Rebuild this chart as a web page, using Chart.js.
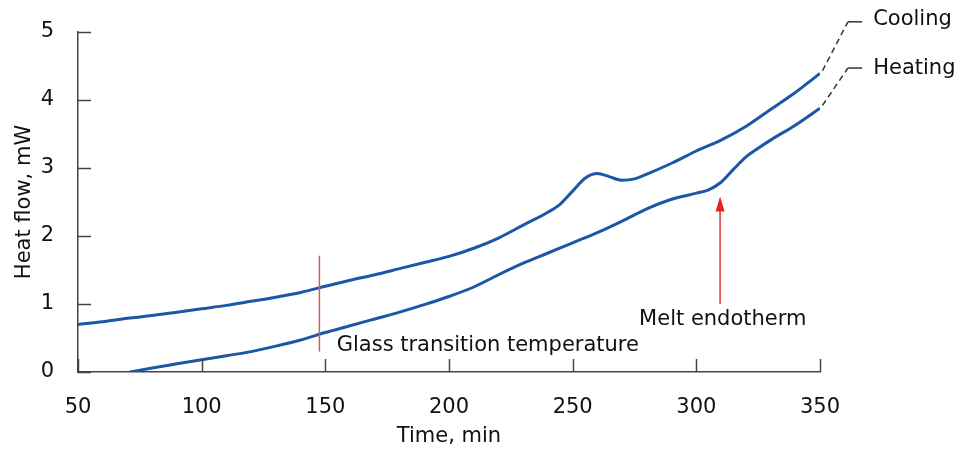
<!DOCTYPE html>
<html>
<head>
<meta charset="utf-8">
<script src="https://cdn.jsdelivr.net/npm/chart.js@4.4.1/dist/chart.umd.min.js"></script>
<style>
  html, body { margin: 0; padding: 0; background: #fff; }
  #wrap { width: 956px; height: 449px; position: relative; }
</style>
</head>
<body>
<div id="wrap"><canvas id="dscChart"></canvas></div>
<script>
// === Data ===
const coolingTime = [50, 60, 70, 80, 90, 100, 110, 120, 130, 140, 150, 160, 170, 180, 190, 200, 210, 220, 230, 240, 245, 250, 255, 260, 265, 270, 275, 280, 290, 300, 310, 320, 330, 340, 350];
const coolingFlow = [0.70, 0.74, 0.79, 0.83, 0.88, 0.93, 0.98, 1.04, 1.10, 1.17, 1.26, 1.35, 1.43, 1.52, 1.61, 1.70, 1.82, 1.97, 2.16, 2.35, 2.47, 2.66, 2.85, 2.92, 2.87, 2.82, 2.84, 2.91, 3.07, 3.25, 3.41, 3.61, 3.86, 4.11, 4.39];

const heatingTime = [71, 80, 90, 100, 110, 120, 130, 140, 150, 160, 170, 180, 190, 200, 210, 220, 230, 240, 250, 260, 270, 280, 290, 300, 305, 310, 315, 320, 325, 330, 340, 350];
const heatingFlow = [0.00, 0.06, 0.12, 0.18, 0.24, 0.30, 0.38, 0.47, 0.58, 0.68, 0.78, 0.88, 0.99, 1.11, 1.25, 1.43, 1.60, 1.75, 1.90, 2.05, 2.22, 2.40, 2.54, 2.63, 2.68, 2.79, 2.98, 3.16, 3.29, 3.41, 3.63, 3.88];

const xTicks = [50, 100, 150, 200, 250, 300, 350];
const yTicks = [0, 1, 2, 3, 4, 5];

// leader lines from curve ends to the series labels
const coolingLeaderTime = [351, 361.3, 367];
const coolingLeaderFlow = [4.43, 5.15, 5.15];
const heatingLeaderTime = [351, 361.3, 367];
const heatingLeaderFlow = [3.92, 4.47, 4.47];

// annotations
const glassTime = 147.6;
const glassRange = [0.30, 1.71];
const meltTime = 309.6;
const meltRange = [1.0, 2.58];

Chart.defaults.font.family = "'DejaVu Sans', sans-serif";
Chart.defaults.font.size = 21;
Chart.defaults.color = '#111';

const toPoints = (xs, ys) => xs.map((v, i) => ({ x: v, y: ys[i] }));

// === Anotasi: tick ke dalam, garis, panah, label ===
const annotate = {
    id: 'annotate',
    afterDraw(chart) {
        const { ctx, scales: { x, y } } = chart;
        ctx.save();

        // inward tick marks
        ctx.strokeStyle = '#444';
        ctx.lineWidth = 1.5;
        xTicks.forEach(v => {
            const px = Math.round(x.getPixelForValue(v)) + 0.5;
            ctx.beginPath();
            ctx.moveTo(px, y.bottom);
            ctx.lineTo(px, y.bottom - 13);
            ctx.stroke();
        });
        yTicks.forEach(v => {
            const py = Math.round(y.getPixelForValue(v)) + 0.5;
            ctx.beginPath();
            ctx.moveTo(x.left, py);
            ctx.lineTo(x.left + 13, py);
            ctx.stroke();
        });

        // leader lines
        const leader = (ts, fs) => {
            ctx.strokeStyle = '#333';
            ctx.lineWidth = 1.5;
            ctx.setLineDash([6, 4]);
            ctx.beginPath();
            ctx.moveTo(x.getPixelForValue(ts[0]), y.getPixelForValue(fs[0]));
            ctx.lineTo(x.getPixelForValue(ts[1]), y.getPixelForValue(fs[1]));
            ctx.stroke();
            ctx.setLineDash([]);
            ctx.beginPath();
            ctx.moveTo(x.getPixelForValue(ts[1]), y.getPixelForValue(fs[1]));
            ctx.lineTo(x.getPixelForValue(ts[2]), y.getPixelForValue(fs[2]));
            ctx.stroke();
        };
        leader(coolingLeaderTime, coolingLeaderFlow);
        leader(heatingLeaderTime, heatingLeaderFlow);

        // glass transition marker
        const gx = x.getPixelForValue(glassTime);
        ctx.strokeStyle = '#d65c5c';
        ctx.lineWidth = 1.5;
        ctx.beginPath();
        ctx.moveTo(gx, y.getPixelForValue(glassRange[0]));
        ctx.lineTo(gx, y.getPixelForValue(glassRange[1]));
        ctx.stroke();

        // melt endotherm arrow
        const mx = x.getPixelForValue(meltTime);
        const tipY = y.getPixelForValue(meltRange[1]);
        ctx.strokeStyle = '#e53030';
        ctx.fillStyle = '#e82020';
        ctx.beginPath();
        ctx.moveTo(mx, y.getPixelForValue(meltRange[0]));
        ctx.lineTo(mx, tipY + 12);
        ctx.stroke();
        ctx.beginPath();
        ctx.moveTo(mx, tipY);
        ctx.lineTo(mx - 4.5, tipY + 15);
        ctx.lineTo(mx + 4.5, tipY + 15);
        ctx.closePath();
        ctx.fill();

        // texts
        ctx.fillStyle = '#111';
        ctx.font = "21px 'DejaVu Sans', sans-serif";
        ctx.textBaseline = 'middle';
        ctx.textAlign = 'left';
        ctx.fillText('Glass transition temperature', x.getPixelForValue(154.6), y.getPixelForValue(0.39));
        ctx.textAlign = 'center';
        ctx.fillText('Melt endotherm', x.getPixelForValue(310.7), y.getPixelForValue(0.77));
        ctx.textAlign = 'left';
        ctx.fillText('Cooling', x.getPixelForValue(371.5), y.getPixelForValue(5.18));
        ctx.fillText('Heating', x.getPixelForValue(371.5), y.getPixelForValue(4.46));

        ctx.restore();
    }
};

const ctx = document.getElementById('dscChart').getContext('2d');
new Chart(ctx, {
    type: 'line',
    data: {
        datasets: [
            {
                label: 'Cooling',
                data: toPoints(coolingTime, coolingFlow),
                borderColor: '#1b57a6',
                borderWidth: 3,
                pointRadius: 0,
                cubicInterpolationMode: 'monotone',
                fill: false
            },
            {
                label: 'Heating',
                data: toPoints(heatingTime, heatingFlow),
                borderColor: '#1b57a6',
                borderWidth: 3,
                pointRadius: 0,
                cubicInterpolationMode: 'monotone',
                fill: false
            }
        ]
    },
    options: {
        responsive: true,
        maintainAspectRatio: false,
        animation: false,
        layout: { padding: { left: 0, top: 32, right: 136, bottom: 0 } },
        plugins: {
            legend: { display: false },
            tooltip: { enabled: false }
        },
        scales: {
            x: {
                type: 'linear',
                min: 50,
                max: 350,
                afterFit: s => { s.height = 77; },
                afterBuildTicks: s => { s.ticks = xTicks.map(v => ({ value: v })); },
                grid: { display: false },
                border: { display: true, color: '#444', width: 1.5 },
                ticks: { padding: 15, maxRotation: 0, color: '#111' },
                title: { display: true, text: 'Time, min', color: '#111', padding: { top: 0, bottom: 0 } }
            },
            y: {
                min: 0,
                max: 5,
                afterFit: s => { s.width = 78; },
                afterBuildTicks: s => { s.ticks = yTicks.map(v => ({ value: v })); },
                grid: { display: false },
                border: { display: true, color: '#444', width: 1.5 },
                ticks: { padding: 16, color: '#111' },
                title: { display: true, text: 'Heat flow, mW', color: '#111', padding: { top: 12, bottom: 0 } }
            }
        }
    },
    plugins: [annotate]
});
</script>
</body>
</html>
